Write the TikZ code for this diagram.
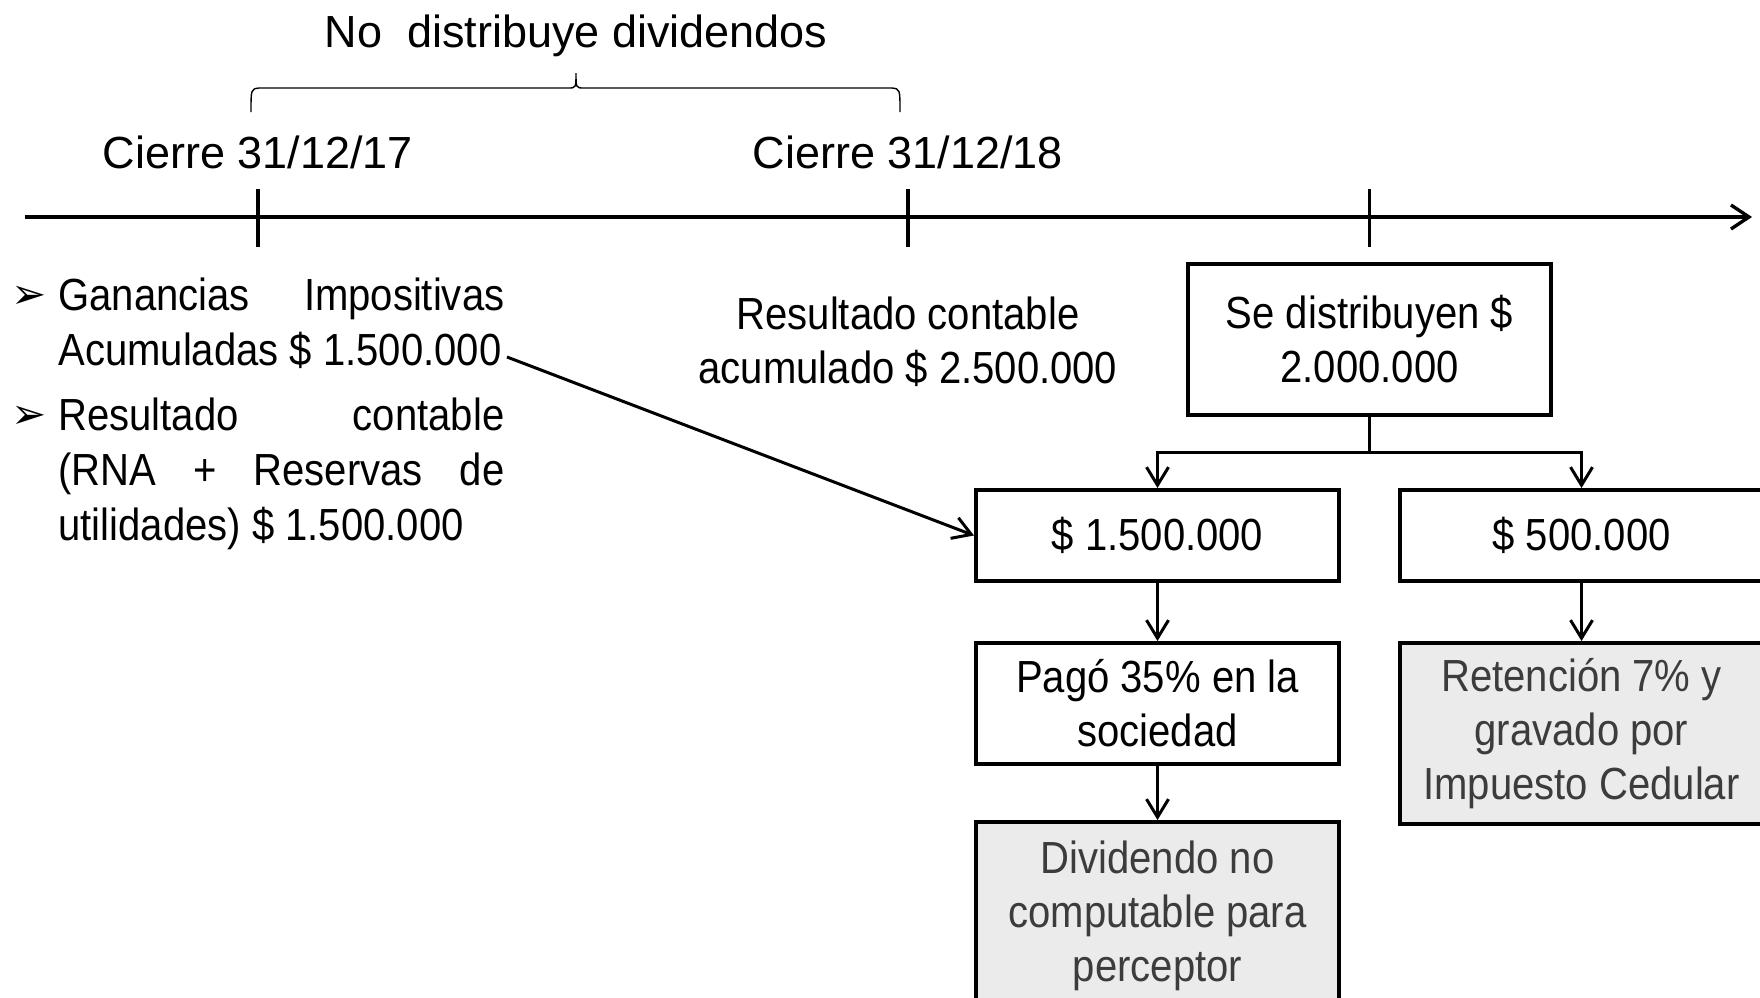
\documentclass[tikz,border=0pt]{standalone}
\usepackage{fontspec}
\setmainfont{Liberation Sans}
\newfontfamily\narrowfont[FakeStretch=0.89]{Liberation Sans}
\newfontfamily\symfont{DejaVu Sans}
\usepackage{tikz}
\usetikzlibrary{arrows.meta,positioning}
\definecolor{boxgray}{RGB}{235,235,235}
\definecolor{textgray}{RGB}{60,60,60}

\begin{document}
\begin{tikzpicture}[x=0.5pt, y=-0.5pt, node distance=29pt, font=\fontsize{22.5}{27}\selectfont]
\tikzstyle{box}=[draw, line width=2pt, align=center, minimum width=181.5pt, inner sep=4pt, font=\fontsize{22.5}{27}\selectfont\narrowfont]
\tikzstyle{greybox}=[box, fill=boxgray, text=textgray]
\tikzstyle{item}=[anchor=west, align=left, inner sep=0pt, font=\fontsize{22.5}{27.5}\selectfont\narrowfont]
\tikzstyle{bullet}=[inner sep=0pt, font=\fontsize{21}{21}\selectfont\symfont]
\tikzstyle{flow}=[-{Straight Barb[length=9pt,width=11pt]}, line width=1.5pt]
\tikzstyle{tick}=[line width=1.7pt]

\useasboundingbox (0,0) rectangle (1760,997);

\coordinate (ini) at (25,217);
\coordinate (fin) at (1752,217);
\draw[line width=1.7pt, -{Straight Barb[length=9pt,width=12pt]}] (ini) -- (fin);

\coordinate (t17) at (258,217);
\coordinate (t18) at (908,217);
\coordinate (tdist) at (1369.5,217);
\foreach \t in {t17,t18,tdist}
  \draw[tick] ([yshift=14pt]\t) -- ([yshift=-15pt]\t);

\node (c17) at (258,152) {Cierre 31/12/17};
\node (c18) at (908,152) {Cierre 31/12/18};
\node (nodist) at (576,36) {No\ \ distribuye dividendos};
\draw[line width=0.7pt] (251,112) .. controls (251,89) .. (259,88) -- (568,88)
  .. controls (576,88) .. (576,73) .. controls (576,88) .. (584,88) -- (892,88)
  .. controls (900,89) .. (900,112);

\node[bullet] (b1) at (29,297) {➢};
\node[item] (item1) at (58,323) {\makebox[223pt][s]{Ganancias Impositivas}\\Acumuladas \$ 1.500.000};
\node[bullet] (b2) at (29,417) {➢};
\node[item] (item2) at (58,474) {\makebox[223pt][s]{Resultado contable}\\\makebox[223pt][s]{(RNA + Reservas de}\\utilidades) \$ 1.500.000};

\node[align=center, font=\fontsize{22.5}{27}\selectfont\narrowfont] (rescont) at (908,342) {Resultado contable\\acumulado \$ 2.500.000};

\node[box, minimum height=75.5pt] (dist) at (1369.5,339.5) {Se distribuyen \$\\2.000.000};
\node[box, minimum height=45.5pt] (parte1) at (1157.5,535.5) {\$ 1.500.000};
\node[box, minimum height=45.5pt, right=28.5pt of parte1] (parte2) {\$ 500.000};
\node[box, minimum height=60.5pt, below=of parte1] (pago) {Pagó 35\% en la\\sociedad};
\node[greybox, minimum height=90.5pt, below=of parte2] (reten) {Retención 7\% y\\gravado por\\Impuesto Cedular};
\node[greybox, minimum height=93.5pt, below=27pt of pago] (divid) {Dividendo no\\computable para\\perceptor};

\coordinate (split) at (1369.5,452);
\coordinate (acumEnd) at (507,357);
\draw[line width=1.5pt] (dist.south) -- (split);
\draw[flow] (split) -| (parte1.north);
\draw[flow] (split) -| (parte2.north);
\draw[flow] (parte1) -- (pago);
\draw[flow] (pago) -- (divid);
\draw[flow] (parte2) -- (reten);
\draw[flow] (acumEnd) -- (parte1.west);
\end{tikzpicture}
\end{document}
